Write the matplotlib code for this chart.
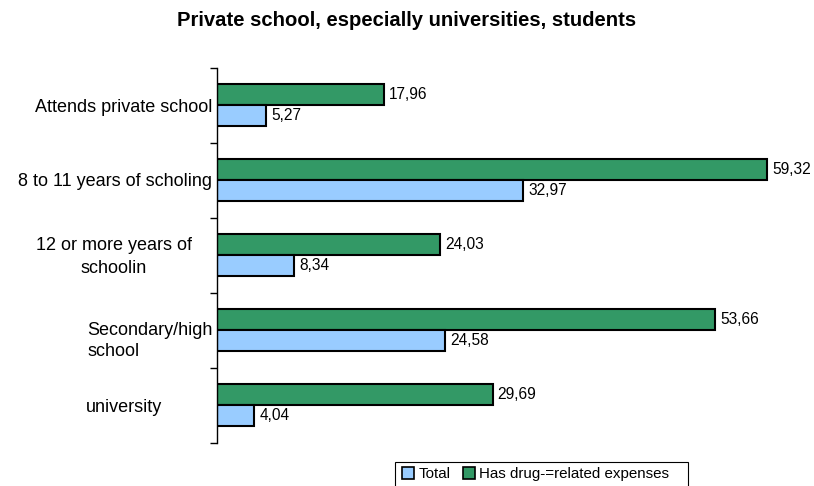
import matplotlib
matplotlib.use("Agg")
import matplotlib.pyplot as plt
from matplotlib.patches import Patch, Rectangle
import numpy as np

plt.rcParams['font.family'] = ['Liberation Sans', 'DejaVu Sans']

title = "Private school, especially universities, students"
categories = [
    "Attends private school",
    "8 to 11 years of scholing",
    "12 or more years of\nschoolin",
    "Secondary/high\nschool",
    "university",
]
total = [5.27, 32.97, 8.34, 24.58, 4.04]
drug_expenses = [17.96, 59.32, 24.03, 53.66, 29.69]
series_names = ["Total", "Has drug-=related expenses"]

blue = "#99CCFF"
green = "#339966"

W, H = 814, 486
fig = plt.figure(figsize=(W / 100, H / 100), dpi=100)
ax_left, ax_top, ax_bottom = 217, 68, 443
ax = fig.add_axes([ax_left / W, 1 - ax_bottom / H, 1 - ax_left / W, (ax_bottom - ax_top) / H])

y = np.arange(len(categories))
bh = 0.28
ax.barh(y - 0.147, drug_expenses, height=bh, color=green, edgecolor="black", linewidth=1.5)
ax.barh(y + 0.133, total, height=bh, color=blue, edgecolor="black", linewidth=1.5)

vfs = 11.2
for yi, v in zip(y, drug_expenses):
    ax.text(v + 0.55, yi - 0.147, f"{v:.2f}".replace(".", ","), va="center", ha="left", fontsize=vfs)
for yi, v in zip(y, total):
    ax.text(v + 0.55, yi + 0.133, f"{v:.2f}".replace(".", ","), va="center", ha="left", fontsize=vfs)

ax.set_xlim(0, (W - ax_left) / 9.28)
ax.set_ylim(len(categories) - 0.5, -0.5)
for s in ["top", "right", "bottom"]:
    ax.spines[s].set_visible(False)
ax.spines["left"].set_linewidth(1.0)
ax.set_xticks([])
ax.set_yticks(np.arange(len(categories) + 1) - 0.5)
ax.set_yticklabels([])
ax.tick_params(axis="y", direction="out", length=5, width=1.0)

# category labels placed beside the axis, mimicking wrapped spreadsheet labels
fs = 13
tr = ax.get_yaxis_transform()
span = W - ax_left
ax.text(-0.008, 0.02, categories[0], transform=tr, ha="right", va="center", fontsize=fs)
ax.text(-0.008, 1.02, categories[1], transform=tr, ha="right", va="center", fontsize=fs)
ax.text((114 - ax_left) / span, 2.02, categories[2], transform=tr, ha="center",
        va="center", fontsize=fs, multialignment="center", linespacing=1.53)
ax.text((87 - ax_left) / span, 3.14, categories[3], transform=tr, ha="left",
        va="center", fontsize=fs, multialignment="left", linespacing=1.27)
ax.text((86 - ax_left) / span, 4.02, categories[4], transform=tr, ha="left",
        va="center", fontsize=fs)

fig.text(0.5, 1 - 20 / H, title, ha="center", va="center", fontsize=14.6, fontweight="bold")

# legend entries with a plain rectangular frame running off the lower edge
handles = [Patch(facecolor=blue, edgecolor="black", linewidth=1.2),
           Patch(facecolor=green, edgecolor="black", linewidth=1.2)]
leg = fig.legend(handles, series_names, loc="center left", bbox_to_anchor=(402 / W, 1 - 474 / H),
                 ncol=2, frameon=False, fontsize=10.9, handlelength=0.8,
                 handleheight=0.8, handletextpad=0.3, columnspacing=0.8, borderpad=0,
                 borderaxespad=0)
fig.patches.append(Rectangle((395 / W, -10 / H), (688 - 395) / W, (486 + 10 - 462) / H,
                             transform=fig.transFigure, fill=False, edgecolor="black",
                             linewidth=0.8))

fig.savefig("out.png", dpi=100)
